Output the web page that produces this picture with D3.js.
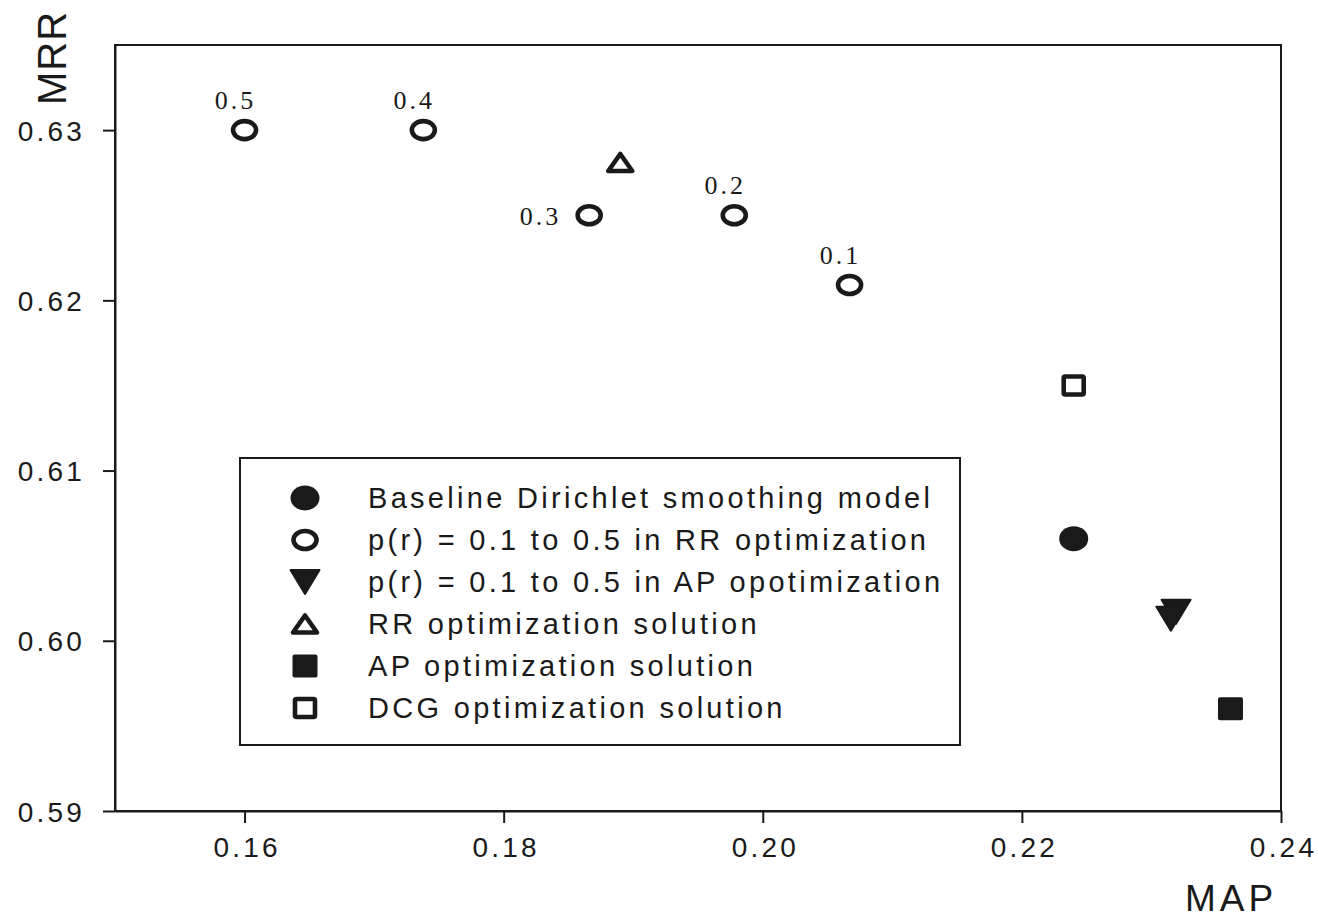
<!DOCTYPE html>
<html>
<head>
<meta charset="utf-8">
<script src="https://cdn.jsdelivr.net/npm/d3@7"></script>
<style>
  html, body { margin: 0; padding: 0; background: #fff; }
  svg { display: block; }
</style>
</head>
<body>
<script>
// ---------------- data ----------------
const xTicks = [0.16, 0.18, 0.20, 0.22, 0.24];
const yTicks = [0.59, 0.60, 0.61, 0.62, 0.63];

// p(r) = 0.1 .. 0.5 in RR optimization (open circles, labelled)
const rrLabels = ["0.1", "0.2", "0.3", "0.4", "0.5"];
const rrMAP = [0.2067, 0.1978, 0.1866, 0.1738, 0.1600];
const rrMRR = [0.6209, 0.6250, 0.6250, 0.6300, 0.6300];

// p(r) = 0.1 .. 0.5 in AP optimization (filled down triangles, overlapping)
const apMAP = [0.2319, 0.2315];
const apMRR = [0.6017, 0.6013];

// Baseline Dirichlet smoothing model
const baseMAP = [0.2240];
const baseMRR = [0.6060];

// RR optimization solution
const rrOptMAP = [0.1890];
const rrOptMRR = [0.6281];

// AP optimization solution
const apOptMAP = [0.2361];
const apOptMRR = [0.5960];

// DCG optimization solution
const dcgOptMAP = [0.2240];
const dcgOptMRR = [0.6150];

const legendItems = [
  {sym: "filledCircle", label: "Baseline Dirichlet smoothing model"},
  {sym: "openCircle",   label: "p(r) = 0.1 to 0.5 in RR optimization"},
  {sym: "downTri",      label: "p(r) = 0.1 to 0.5 in AP opotimization"},
  {sym: "openTri",      label: "RR optimization solution"},
  {sym: "filledSquare", label: "AP optimization solution"},
  {sym: "openSquare",   label: "DCG optimization solution"}
];

// ---------------- layout ----------------
const W = 1318, H = 918;
const plot = {left: 115, right: 1281, top: 45, bottom: 811};
const ink = "#1a1a1a";
const sans = "'Liberation Sans', Arial, sans-serif";

const svg = d3.select("body").append("svg")
  .attr("width", W).attr("height", H);

const x = d3.scaleLinear().domain([0.15, 0.24]).range([plot.left, plot.right]);
const y = d3.scaleLinear().domain([0.59, 0.635]).range([plot.bottom, plot.top]);

// frame
svg.append("rect")
  .attr("x", plot.left).attr("y", plot.top)
  .attr("width", plot.right - plot.left).attr("height", plot.bottom - plot.top)
  .attr("fill", "none").attr("stroke", ink).attr("stroke-width", 2);

// axes
const fmt = d3.format(".2f");
const xAxis = svg.append("g")
  .attr("transform", `translate(0,${plot.bottom})`)
  .call(d3.axisBottom(x).tickValues(xTicks).tickFormat(fmt).tickSize(12).tickPadding(9).tickSizeOuter(0));
const yAxis = svg.append("g")
  .attr("transform", `translate(${plot.left},0)`)
  .call(d3.axisLeft(y).tickValues(yTicks).tickFormat(fmt).tickSize(12).tickPadding(18).tickSizeOuter(0));

[xAxis, yAxis].forEach(g => {
  g.select(".domain").attr("stroke", ink).attr("stroke-width", 2);
  g.selectAll(".tick line").attr("stroke", ink).attr("stroke-width", 2);
  g.selectAll(".tick text")
    .attr("fill", ink)
    .style("font-family", sans)
    .style("font-size", "28px")
    .style("letter-spacing", "3.2px");
});
yAxis.selectAll(".tick text").attr("dy", "0.36em");
xAxis.selectAll(".tick text").attr("dy", "0.9em").attr("dx", "2px");

// axis titles
svg.append("text")
  .attr("x", 1231).attr("y", 911)
  .attr("text-anchor", "middle")
  .attr("fill", ink)
  .style("font-family", sans)
  .style("font-size", "37px")
  .style("letter-spacing", "4px")
  .text("MAP");

svg.append("text")
  .attr("transform", "translate(66,58) rotate(-90)")
  .attr("text-anchor", "middle")
  .attr("fill", ink)
  .style("font-family", sans)
  .style("font-size", "40px")
  .style("letter-spacing", "1px")
  .text("MRR");

// ---------------- symbols ----------------
function drawSymbol(g, type, cx, cy) {
  switch (type) {
    case "filledCircle":
      g.append("ellipse").attr("cx", cx).attr("cy", cy).attr("rx", 14.5).attr("ry", 12.5)
        .attr("fill", ink);
      break;
    case "openCircle":
      g.append("ellipse").attr("cx", cx).attr("cy", cy).attr("rx", 11.5).attr("ry", 9)
        .attr("fill", "none").attr("stroke", ink).attr("stroke-width", 4.6);
      break;
    case "downTri": {
      const w = 29, h = 24;
      g.append("path")
        .attr("d", `M${cx - w/2},${cy - h/2}L${cx + w/2},${cy - h/2}L${cx},${cy + h/2}Z`)
        .attr("fill", ink).attr("stroke", ink).attr("stroke-width", 2).attr("stroke-linejoin", "round");
      break;
    }
    case "openTri": {
      const w = 24, h = 17;
      g.append("path")
        .attr("d", `M${cx},${cy - h/2}L${cx + w/2},${cy + h/2}L${cx - w/2},${cy + h/2}Z`)
        .attr("fill", "none").attr("stroke", ink).attr("stroke-width", 4.6).attr("stroke-linejoin", "round");
      break;
    }
    case "filledSquare":
      g.append("rect").attr("x", cx - 12.5).attr("y", cy - 11.5).attr("width", 25).attr("height", 23)
        .attr("rx", 2).attr("fill", ink);
      break;
    case "openSquare":
      g.append("rect").attr("x", cx - 10).attr("y", cy - 9).attr("width", 20).attr("height", 18)
        .attr("rx", 1.5).attr("fill", "none").attr("stroke", ink).attr("stroke-width", 4.6);
      break;
  }
}

const marks = svg.append("g");
function series(xs, ys, type) {
  xs.forEach((v, i) => drawSymbol(marks, type, x(v), y(ys[i])));
}
series(dcgOptMAP, dcgOptMRR, "openSquare");
series(baseMAP, baseMRR, "filledCircle");
series(apMAP, apMRR, "downTri");
series(apOptMAP, apOptMRR, "filledSquare");
series(rrOptMAP, rrOptMRR, "openTri");
series(rrMAP, rrMRR, "openCircle");

// point labels
const labelG = svg.append("g")
  .style("font-family", "'Liberation Serif', 'Times New Roman', serif")
  .style("font-size", "26px")
  .style("letter-spacing", "3px")
  .attr("fill", ink);
rrLabels.forEach((lab, i) => {
  const px = x(rrMAP[i]), py = y(rrMRR[i]);
  const t = labelG.append("text").text(lab);
  if (lab === "0.3") {
    t.attr("x", px - 28).attr("y", py + 10).attr("text-anchor", "end");
  } else {
    t.attr("x", px - 9).attr("y", py - 21).attr("text-anchor", "middle");
  }
});

// ---------------- legend ----------------
const lg = svg.append("g");
lg.append("rect")
  .attr("x", 240).attr("y", 458).attr("width", 720).attr("height", 287)
  .attr("fill", "#fff").attr("stroke", ink).attr("stroke-width", 2);
legendItems.forEach((d, i) => {
  const cy = 498 + i * 42;
  drawSymbol(lg, d.sym, 305, cy);
  lg.append("text")
    .attr("x", 368).attr("y", cy + 10)
    .attr("fill", ink)
    .style("font-family", sans)
    .style("font-size", "29px")
    .style("letter-spacing", "3.3px")
    .text(d.label);
});
</script>
</body>
</html>
